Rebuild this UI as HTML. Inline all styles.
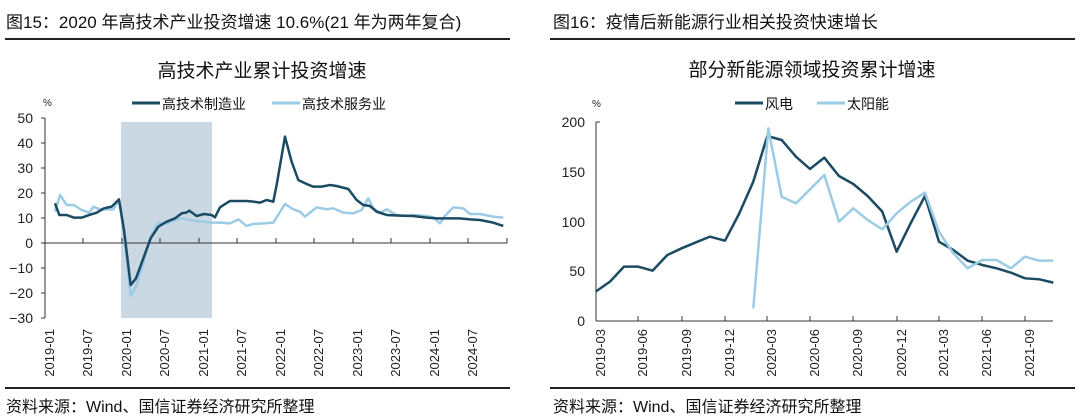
<!DOCTYPE html>
<html><head><meta charset="utf-8"><style>
html,body{margin:0;padding:0;background:#fff;}
svg{display:block;font-family:"Liberation Sans","Noto Sans CJK SC",sans-serif;}
.n{vector-effect:non-scaling-stroke;fill:none;stroke-linejoin:round;}
</style></head><body>
<svg width="1080" height="420" viewBox="0 0 1080 420" xmlns="http://www.w3.org/2000/svg">
<text x="6" y="28" font-size="17" fill="#111">图15：2020 年高技术产业投资增速 10.6%(21 年为两年复合)</text>
<line x1="5" y1="39" x2="510" y2="39" stroke="#222" stroke-width="2"/>
<text x="553" y="28" font-size="17" fill="#111">图16：疫情后新能源行业相关投资快速增长</text>
<line x1="550" y1="39" x2="1075" y2="39" stroke="#222" stroke-width="2"/>
<line x1="5" y1="388" x2="510" y2="388" stroke="#222" stroke-width="2"/>
<line x1="550" y1="388" x2="1075" y2="388" stroke="#222" stroke-width="2"/>
<text x="6" y="412" font-size="16" fill="#111">资料来源：Wind、国信证券经济研究所整理</text>
<text x="553" y="412" font-size="16" fill="#111">资料来源：Wind、国信证券经济研究所整理</text>

<!-- LEFT CHART -->
<text x="262" y="77" font-size="19" text-anchor="middle" fill="#111">高技术产业累计投资增速</text>
<text x="43" y="106" font-size="10" fill="#222">%</text>
<line x1="132" y1="103" x2="160" y2="103" stroke="#1b4a63" stroke-width="3"/>
<text x="162" y="109" font-size="14" fill="#111">高技术制造业</text>
<line x1="272" y1="103" x2="300" y2="103" stroke="#9ccbe6" stroke-width="3"/>
<text x="302" y="109" font-size="14" fill="#111">高技术服务业</text>
<rect x="121" y="122" width="91" height="196" fill="#c9d8e2"/>
<line x1="45" y1="118" x2="45" y2="318" stroke="#333"/>
<line x1="45" y1="243" x2="507" y2="243" stroke="#333"/>
<g font-size="14" fill="#222" text-anchor="end">
<text x="33" y="123">50</text><text x="33" y="148">40</text><text x="33" y="173">30</text><text x="33" y="198">20</text><text x="33" y="223">10</text><text x="33" y="248">0</text><text x="33" y="273">−10</text><text x="33" y="298">−20</text><text x="33" y="323">−30</text>
</g>
<g stroke="#333">
<line x1="45" y1="118" x2="41" y2="118"/><line x1="45" y1="143" x2="41" y2="143"/><line x1="45" y1="168" x2="41" y2="168"/><line x1="45" y1="193" x2="41" y2="193"/><line x1="45" y1="218" x2="41" y2="218"/><line x1="45" y1="243" x2="41" y2="243"/><line x1="45" y1="268" x2="41" y2="268"/><line x1="45" y1="293" x2="41" y2="293"/><line x1="45" y1="318" x2="41" y2="318"/>
<line x1="83" y1="243" x2="83" y2="238"/><line x1="122" y1="243" x2="122" y2="238"/><line x1="160" y1="243" x2="160" y2="238"/><line x1="199" y1="243" x2="199" y2="238"/><line x1="237" y1="243" x2="237" y2="238"/><line x1="276" y1="243" x2="276" y2="238"/><line x1="314" y1="243" x2="314" y2="238"/><line x1="353" y1="243" x2="353" y2="238"/><line x1="391" y1="243" x2="391" y2="238"/><line x1="430" y1="243" x2="430" y2="238"/><line x1="468" y1="243" x2="468" y2="238"/><line x1="507" y1="243" x2="507" y2="238"/>
</g>
<g font-size="13" fill="#222" text-anchor="end">
<text transform="translate(54,329) rotate(-90)">2019-01</text>
<text transform="translate(92,329) rotate(-90)">2019-07</text>
<text transform="translate(131,329) rotate(-90)">2020-01</text>
<text transform="translate(169,329) rotate(-90)">2020-07</text>
<text transform="translate(208,329) rotate(-90)">2021-01</text>
<text transform="translate(246,329) rotate(-90)">2021-07</text>
<text transform="translate(285,329) rotate(-90)">2022-01</text>
<text transform="translate(323,329) rotate(-90)">2022-07</text>
<text transform="translate(362,329) rotate(-90)">2023-01</text>
<text transform="translate(400,329) rotate(-90)">2023-07</text>
<text transform="translate(439,329) rotate(-90)">2024-01</text>
<text transform="translate(477,329) rotate(-90)">2024-07</text>
</g>
<g transform="translate(0,90) scale(0.3333)">
<polyline class="n" stroke="#9ccbe6" stroke-width="2.5" points="165,365 180,315 200,345 222,345 245,360 268,368 280,350 300,358 325,358 340,358 357,330 372,430 392,618 408,590 430,520 452,440 475,398 500,400 525,390 545,385 568,390 590,393 612,395 635,398 660,398 690,400 715,388 740,408 760,402 790,400 820,398 855,342 880,358 900,365 915,380 950,352 980,358 1000,355 1030,368 1060,370 1085,360 1105,325 1120,355 1140,368 1160,358 1190,375 1220,378 1240,375 1280,378 1300,382 1320,400 1335,378 1360,352 1390,355 1410,372 1440,372 1480,380 1510,383"/>
<polyline class="n" stroke="#1b4a63" stroke-width="2.5" points="165,340 178,375 200,375 222,383 245,383 268,375 290,368 312,355 335,350 357,328 372,420 392,585 408,565 430,505 452,445 475,410 500,395 525,385 545,370 558,368 568,362 590,378 612,372 635,375 645,382 660,352 690,333 715,333 740,333 760,335 780,338 800,330 820,335 830,285 855,140 875,215 895,270 920,282 940,290 965,290 990,285 1010,288 1045,297 1070,330 1090,345 1110,348 1130,365 1160,375 1200,377 1240,378 1280,383 1310,385 1340,385 1380,385 1410,388 1440,390 1480,398 1510,408"/>
</g>

<!-- RIGHT CHART -->
<text x="812" y="76" font-size="19" text-anchor="middle" fill="#111">部分新能源领域投资累计增速</text>
<text x="592" y="107" font-size="10" fill="#222">%</text>
<line x1="735" y1="103" x2="763" y2="103" stroke="#1b4a63" stroke-width="3"/>
<text x="765" y="109" font-size="14" fill="#111">风电</text>
<line x1="817" y1="103" x2="845" y2="103" stroke="#9ccbe6" stroke-width="3"/>
<text x="847" y="109" font-size="14" fill="#111">太阳能</text>
<line x1="596" y1="122" x2="596" y2="321" stroke="#333"/>
<line x1="596" y1="321" x2="1053" y2="321" stroke="#333"/>
<g font-size="14" fill="#222" text-anchor="end">
<text x="585" y="127">200</text><text x="585" y="177">150</text><text x="585" y="227">100</text><text x="585" y="276">50</text><text x="585" y="326">0</text>
</g>
<g stroke="#333">
<line x1="596" y1="122" x2="600" y2="122"/>
<line x1="638" y1="321" x2="638" y2="316"/><line x1="682" y1="321" x2="682" y2="316"/><line x1="725" y1="321" x2="725" y2="316"/><line x1="767" y1="321" x2="767" y2="316"/><line x1="810" y1="321" x2="810" y2="316"/><line x1="853" y1="321" x2="853" y2="316"/><line x1="897" y1="321" x2="897" y2="316"/><line x1="939" y1="321" x2="939" y2="316"/><line x1="982" y1="321" x2="982" y2="316"/><line x1="1025" y1="321" x2="1025" y2="316"/>
</g>
<g font-size="13" fill="#222" text-anchor="end">
<text transform="translate(605,329) rotate(-90)">2019-03</text>
<text transform="translate(647,329) rotate(-90)">2019-06</text>
<text transform="translate(691,329) rotate(-90)">2019-09</text>
<text transform="translate(734,329) rotate(-90)">2019-12</text>
<text transform="translate(776,329) rotate(-90)">2020-03</text>
<text transform="translate(819,329) rotate(-90)">2020-06</text>
<text transform="translate(862,329) rotate(-90)">2020-09</text>
<text transform="translate(906,329) rotate(-90)">2020-12</text>
<text transform="translate(948,329) rotate(-90)">2021-03</text>
<text transform="translate(991,329) rotate(-90)">2021-06</text>
<text transform="translate(1034,329) rotate(-90)">2021-09</text>
</g>
<g transform="translate(540,90) scale(0.3333)">
<polyline class="n" stroke="#1b4a63" stroke-width="2.5" points="167,605 210,575 252,530 295,530 338,542 382,495 425,475 468,457 510,440 555,452 597,372 640,275 682,138 725,150 768,200 810,237 853,203 897,258 940,282 983,318 1027,365 1070,485 1112,400 1155,318 1197,455 1240,480 1283,512 1327,525 1370,535 1413,548 1455,565 1498,568 1540,578"/>
<polyline class="n" stroke="#9ccbe6" stroke-width="2.5" points="640,655 685,115 725,320 768,340 810,298 853,255 897,395 940,355 983,390 1027,418 1070,370 1112,335 1155,308 1197,425 1240,490 1283,535 1327,510 1370,510 1413,535 1455,500 1498,512 1540,512"/>
</g>
</svg>
</body></html>
